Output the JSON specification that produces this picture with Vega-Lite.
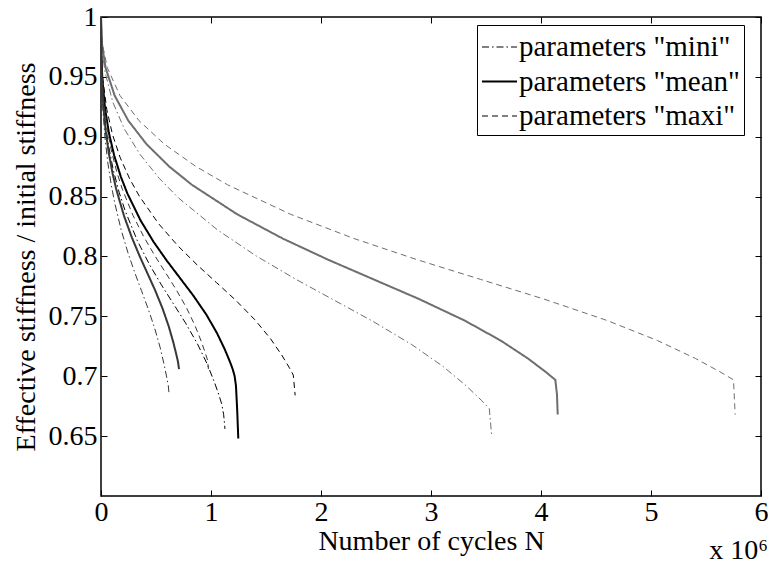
{
  "$schema": "https://vega.github.io/schema/vega-lite/v6.json",
  "width": 660,
  "height": 479,
  "autosize": {"type": "none"},
  "padding": {"left": 101, "top": 17, "right": 7, "bottom": 73},
  "background": "white",
  "title": {"text": "x 10⁶", "orient": "bottom", "anchor": "end", "font": "Liberation Serif", "fontSize": 28, "fontWeight": "normal", "color": "black", "offset": -18},
  "config": {
    "view": {"stroke": "black", "strokeWidth": 1.5},
    "axis": {"labelFont": "Liberation Serif", "labelFontSize": 28, "labelColor": "black", "titleFont": "Liberation Serif", "titleFontSize": 28, "titleFontWeight": "normal", "titleColor": "black", "grid": false, "domain": false, "tickColor": "black", "tickSize": -6, "tickWidth": 1},
    "legend": {"labelFont": "Liberation Serif", "labelFontSize": 29, "labelColor": "black", "labelLimit": 400, "symbolType": "stroke", "symbolSize": 1225, "symbolStrokeColor": "black", "strokeColor": "black", "fillColor": "white", "padding": 4, "rowPadding": 1, "labelOffset": 1, "cornerRadius": 0}
  },
  "data": {"values": [
    {"c":"R3","g":"R","p":"maxi","x":0,"y":1},
    {"c":"R3","g":"R","p":"maxi","x":0.0115,"y":0.9778},
    {"c":"R3","g":"R","p":"maxi","x":0.0575,"y":0.9577},
    {"c":"R3","g":"R","p":"maxi","x":0.1725,"y":0.9344},
    {"c":"R3","g":"R","p":"maxi","x":0.345,"y":0.9135},
    {"c":"R3","g":"R","p":"maxi","x":0.575,"y":0.8939},
    {"c":"R3","g":"R","p":"maxi","x":0.8625,"y":0.8752},
    {"c":"R3","g":"R","p":"maxi","x":1.15,"y":0.8599},
    {"c":"R3","g":"R","p":"maxi","x":1.725,"y":0.8352},
    {"c":"R3","g":"R","p":"maxi","x":2.3,"y":0.815},
    {"c":"R3","g":"R","p":"maxi","x":2.875,"y":0.7973},
    {"c":"R3","g":"R","p":"maxi","x":3.45,"y":0.7809},
    {"c":"R3","g":"R","p":"maxi","x":4.025,"y":0.7645},
    {"c":"R3","g":"R","p":"maxi","x":4.6,"y":0.7466},
    {"c":"R3","g":"R","p":"maxi","x":5.06,"y":0.7298},
    {"c":"R3","g":"R","p":"maxi","x":5.405,"y":0.7148},
    {"c":"R3","g":"R","p":"maxi","x":5.635,"y":0.7033},
    {"c":"R3","g":"R","p":"maxi","x":5.75,"y":0.697},
    {"c":"R3","g":"R","p":"maxi","x":5.765,"y":0.668},
    {"c":"R2","g":"R","p":"mean","x":0,"y":1},
    {"c":"R2","g":"R","p":"mean","x":0.0083,"y":0.9778},
    {"c":"R2","g":"R","p":"mean","x":0.0413,"y":0.9577},
    {"c":"R2","g":"R","p":"mean","x":0.1239,"y":0.9344},
    {"c":"R2","g":"R","p":"mean","x":0.2478,"y":0.9135},
    {"c":"R2","g":"R","p":"mean","x":0.413,"y":0.8939},
    {"c":"R2","g":"R","p":"mean","x":0.6195,"y":0.8752},
    {"c":"R2","g":"R","p":"mean","x":0.826,"y":0.8599},
    {"c":"R2","g":"R","p":"mean","x":1.239,"y":0.8352},
    {"c":"R2","g":"R","p":"mean","x":1.652,"y":0.815},
    {"c":"R2","g":"R","p":"mean","x":2.065,"y":0.7973},
    {"c":"R2","g":"R","p":"mean","x":2.478,"y":0.7809},
    {"c":"R2","g":"R","p":"mean","x":2.891,"y":0.7645},
    {"c":"R2","g":"R","p":"mean","x":3.304,"y":0.7466},
    {"c":"R2","g":"R","p":"mean","x":3.634,"y":0.7298},
    {"c":"R2","g":"R","p":"mean","x":3.882,"y":0.7148},
    {"c":"R2","g":"R","p":"mean","x":4.047,"y":0.7033},
    {"c":"R2","g":"R","p":"mean","x":4.13,"y":0.697},
    {"c":"R2","g":"R","p":"mean","x":4.145,"y":0.685},
    {"c":"R2","g":"R","p":"mean","x":4.152,"y":0.668},
    {"c":"R1","g":"R","p":"mini","x":0,"y":1},
    {"c":"R1","g":"R","p":"mini","x":0.0071,"y":0.976},
    {"c":"R1","g":"R","p":"mini","x":0.0353,"y":0.9544},
    {"c":"R1","g":"R","p":"mini","x":0.1059,"y":0.9292},
    {"c":"R1","g":"R","p":"mini","x":0.2118,"y":0.9066},
    {"c":"R1","g":"R","p":"mini","x":0.353,"y":0.8855},
    {"c":"R1","g":"R","p":"mini","x":0.5295,"y":0.8653},
    {"c":"R1","g":"R","p":"mini","x":0.706,"y":0.8488},
    {"c":"R1","g":"R","p":"mini","x":1.059,"y":0.8222},
    {"c":"R1","g":"R","p":"mini","x":1.412,"y":0.8004},
    {"c":"R1","g":"R","p":"mini","x":1.765,"y":0.7813},
    {"c":"R1","g":"R","p":"mini","x":2.118,"y":0.7636},
    {"c":"R1","g":"R","p":"mini","x":2.471,"y":0.7459},
    {"c":"R1","g":"R","p":"mini","x":2.824,"y":0.7265},
    {"c":"R1","g":"R","p":"mini","x":3.106,"y":0.7084},
    {"c":"R1","g":"R","p":"mini","x":3.318,"y":0.6922},
    {"c":"R1","g":"R","p":"mini","x":3.459,"y":0.6798},
    {"c":"R1","g":"R","p":"mini","x":3.53,"y":0.673},
    {"c":"R1","g":"R","p":"mini","x":3.552,"y":0.65},
    {"c":"M3","g":"M","p":"maxi","x":0,"y":1},
    {"c":"M3","g":"M","p":"maxi","x":0.0035,"y":0.9701},
    {"c":"M3","g":"M","p":"maxi","x":0.0175,"y":0.9475},
    {"c":"M3","g":"M","p":"maxi","x":0.0524,"y":0.9229},
    {"c":"M3","g":"M","p":"maxi","x":0.1049,"y":0.9017},
    {"c":"M3","g":"M","p":"maxi","x":0.1748,"y":0.8825},
    {"c":"M3","g":"M","p":"maxi","x":0.2622,"y":0.8646},
    {"c":"M3","g":"M","p":"maxi","x":0.3496,"y":0.8502},
    {"c":"M3","g":"M","p":"maxi","x":0.5244,"y":0.8273},
    {"c":"M3","g":"M","p":"maxi","x":0.6992,"y":0.8089},
    {"c":"M3","g":"M","p":"maxi","x":0.874,"y":0.793},
    {"c":"M3","g":"M","p":"maxi","x":1.0488,"y":0.7783},
    {"c":"M3","g":"M","p":"maxi","x":1.2236,"y":0.7636},
    {"c":"M3","g":"M","p":"maxi","x":1.3984,"y":0.7472},
    {"c":"M3","g":"M","p":"maxi","x":1.5382,"y":0.7317},
    {"c":"M3","g":"M","p":"maxi","x":1.6431,"y":0.7177},
    {"c":"M3","g":"M","p":"maxi","x":1.713,"y":0.707},
    {"c":"M3","g":"M","p":"maxi","x":1.748,"y":0.701},
    {"c":"M3","g":"M","p":"maxi","x":1.765,"y":0.684},
    {"c":"M2","g":"M","p":"mean","x":0,"y":1},
    {"c":"M2","g":"M","p":"mean","x":0.0024,"y":0.9706},
    {"c":"M2","g":"M","p":"mean","x":0.012,"y":0.9484},
    {"c":"M2","g":"M","p":"mean","x":0.0359,"y":0.9242},
    {"c":"M2","g":"M","p":"mean","x":0.0718,"y":0.9033},
    {"c":"M2","g":"M","p":"mean","x":0.1197,"y":0.8844},
    {"c":"M2","g":"M","p":"mean","x":0.1796,"y":0.8668},
    {"c":"M2","g":"M","p":"mean","x":0.2394,"y":0.8527},
    {"c":"M2","g":"M","p":"mean","x":0.3591,"y":0.8302},
    {"c":"M2","g":"M","p":"mean","x":0.4788,"y":0.8121},
    {"c":"M2","g":"M","p":"mean","x":0.5985,"y":0.7965},
    {"c":"M2","g":"M","p":"mean","x":0.7182,"y":0.782},
    {"c":"M2","g":"M","p":"mean","x":0.8379,"y":0.7675},
    {"c":"M2","g":"M","p":"mean","x":0.9576,"y":0.7515},
    {"c":"M2","g":"M","p":"mean","x":1.0534,"y":0.7362},
    {"c":"M2","g":"M","p":"mean","x":1.1252,"y":0.7225},
    {"c":"M2","g":"M","p":"mean","x":1.1731,"y":0.7119},
    {"c":"M2","g":"M","p":"mean","x":1.197,"y":0.706},
    {"c":"M2","g":"M","p":"mean","x":1.215,"y":0.7},
    {"c":"M2","g":"M","p":"mean","x":1.227,"y":0.692},
    {"c":"M2","g":"M","p":"mean","x":1.238,"y":0.672},
    {"c":"M2","g":"M","p":"mean","x":1.248,"y":0.648},
    {"c":"M1","g":"M","p":"mini","x":0,"y":1},
    {"c":"M1","g":"M","p":"mini","x":0.0022,"y":0.9677},
    {"c":"M1","g":"M","p":"mini","x":0.011,"y":0.9433},
    {"c":"M1","g":"M","p":"mini","x":0.0329,"y":0.9167},
    {"c":"M1","g":"M","p":"mini","x":0.0658,"y":0.8938},
    {"c":"M1","g":"M","p":"mini","x":0.1097,"y":0.873},
    {"c":"M1","g":"M","p":"mini","x":0.1646,"y":0.8537},
    {"c":"M1","g":"M","p":"mini","x":0.2194,"y":0.8382},
    {"c":"M1","g":"M","p":"mini","x":0.3291,"y":0.8135},
    {"c":"M1","g":"M","p":"mini","x":0.4388,"y":0.7936},
    {"c":"M1","g":"M","p":"mini","x":0.5485,"y":0.7764},
    {"c":"M1","g":"M","p":"mini","x":0.6582,"y":0.7605},
    {"c":"M1","g":"M","p":"mini","x":0.7679,"y":0.7446},
    {"c":"M1","g":"M","p":"mini","x":0.8776,"y":0.7269},
    {"c":"M1","g":"M","p":"mini","x":0.9654,"y":0.7102},
    {"c":"M1","g":"M","p":"mini","x":1.0312,"y":0.6951},
    {"c":"M1","g":"M","p":"mini","x":1.0751,"y":0.6834},
    {"c":"M1","g":"M","p":"mini","x":1.097,"y":0.677},
    {"c":"M1","g":"M","p":"mini","x":1.115,"y":0.668},
    {"c":"M1","g":"M","p":"mini","x":1.127,"y":0.656},
    {"c":"L3","g":"L","p":"maxi","x":0,"y":1},
    {"c":"L3","g":"L","p":"maxi","x":0.0019,"y":0.9713},
    {"c":"L3","g":"L","p":"maxi","x":0.0097,"y":0.9496},
    {"c":"L3","g":"L","p":"maxi","x":0.0291,"y":0.926},
    {"c":"L3","g":"L","p":"maxi","x":0.0582,"y":0.9056},
    {"c":"L3","g":"L","p":"maxi","x":0.097,"y":0.8872},
    {"c":"L3","g":"L","p":"maxi","x":0.1455,"y":0.87},
    {"c":"L3","g":"L","p":"maxi","x":0.194,"y":0.8562},
    {"c":"L3","g":"L","p":"maxi","x":0.291,"y":0.8343},
    {"c":"L3","g":"L","p":"maxi","x":0.388,"y":0.8166},
    {"c":"L3","g":"L","p":"maxi","x":0.485,"y":0.8013},
    {"c":"L3","g":"L","p":"maxi","x":0.582,"y":0.7872},
    {"c":"L3","g":"L","p":"maxi","x":0.679,"y":0.773},
    {"c":"L3","g":"L","p":"maxi","x":0.776,"y":0.7574},
    {"c":"L3","g":"L","p":"maxi","x":0.8536,"y":0.7425},
    {"c":"L3","g":"L","p":"maxi","x":0.9118,"y":0.7291},
    {"c":"L3","g":"L","p":"maxi","x":0.9506,"y":0.7187},
    {"c":"L3","g":"L","p":"maxi","x":0.97,"y":0.713},
    {"c":"L3","g":"L","p":"maxi","x":0.976,"y":0.706},
    {"c":"L2","g":"L","p":"mean","x":0,"y":1},
    {"c":"L2","g":"L","p":"mean","x":0.0014,"y":0.9712},
    {"c":"L2","g":"L","p":"mean","x":0.007,"y":0.9494},
    {"c":"L2","g":"L","p":"mean","x":0.021,"y":0.9257},
    {"c":"L2","g":"L","p":"mean","x":0.042,"y":0.9053},
    {"c":"L2","g":"L","p":"mean","x":0.07,"y":0.8868},
    {"c":"L2","g":"L","p":"mean","x":0.105,"y":0.8695},
    {"c":"L2","g":"L","p":"mean","x":0.14,"y":0.8557},
    {"c":"L2","g":"L","p":"mean","x":0.21,"y":0.8337},
    {"c":"L2","g":"L","p":"mean","x":0.28,"y":0.816},
    {"c":"L2","g":"L","p":"mean","x":0.35,"y":0.8006},
    {"c":"L2","g":"L","p":"mean","x":0.42,"y":0.7864},
    {"c":"L2","g":"L","p":"mean","x":0.49,"y":0.7722},
    {"c":"L2","g":"L","p":"mean","x":0.56,"y":0.7565},
    {"c":"L2","g":"L","p":"mean","x":0.616,"y":0.7416},
    {"c":"L2","g":"L","p":"mean","x":0.658,"y":0.7281},
    {"c":"L2","g":"L","p":"mean","x":0.686,"y":0.7177},
    {"c":"L2","g":"L","p":"mean","x":0.7,"y":0.712},
    {"c":"L2","g":"L","p":"mean","x":0.709,"y":0.706},
    {"c":"L1","g":"L","p":"mini","x":0,"y":1},
    {"c":"L1","g":"L","p":"mini","x":0.0012,"y":0.9692},
    {"c":"L1","g":"L","p":"mini","x":0.0061,"y":0.9459},
    {"c":"L1","g":"L","p":"mini","x":0.0184,"y":0.9206},
    {"c":"L1","g":"L","p":"mini","x":0.0367,"y":0.8987},
    {"c":"L1","g":"L","p":"mini","x":0.0612,"y":0.8789},
    {"c":"L1","g":"L","p":"mini","x":0.0918,"y":0.8605},
    {"c":"L1","g":"L","p":"mini","x":0.1224,"y":0.8457},
    {"c":"L1","g":"L","p":"mini","x":0.1836,"y":0.8221},
    {"c":"L1","g":"L","p":"mini","x":0.2448,"y":0.8032},
    {"c":"L1","g":"L","p":"mini","x":0.306,"y":0.7868},
    {"c":"L1","g":"L","p":"mini","x":0.3672,"y":0.7716},
    {"c":"L1","g":"L","p":"mini","x":0.4284,"y":0.7564},
    {"c":"L1","g":"L","p":"mini","x":0.4896,"y":0.7396},
    {"c":"L1","g":"L","p":"mini","x":0.5386,"y":0.7237},
    {"c":"L1","g":"L","p":"mini","x":0.5753,"y":0.7092},
    {"c":"L1","g":"L","p":"mini","x":0.5998,"y":0.6981},
    {"c":"L1","g":"L","p":"mini","x":0.612,"y":0.692},
    {"c":"L1","g":"L","p":"mini","x":0.618,"y":0.686}
  ]},
  "layer": [
    {
      "mark": {"type": "line", "clip": true},
      "encoding": {
        "x": {"field": "x", "type": "quantitative", "scale": {"domain": [0, 6], "nice": false, "zero": false},
              "axis": {"orient": "bottom", "title": "Number of cycles N", "values": [0,1,2,3,4,5,6], "labelExpr": "'' + datum.value", "labelPadding": 8, "titlePadding": 1, "labelFlush": false, "labelOverlap": false}},
        "y": {"field": "y", "type": "quantitative", "scale": {"domain": [0.6, 1], "nice": false, "zero": false},
              "axis": {"orient": "left", "title": "Effective stiffness / initial stiffness", "values": [0.65,0.7,0.75,0.8,0.85,0.9,0.95,1], "labelExpr": "'' + datum.value", "labelPadding": 10, "titlePadding": 8, "labelFlush": false, "labelOverlap": false}},
        "detail": {"field": "c"},
        "color": {"field": "g", "type": "nominal", "scale": {"domain": ["L","M","R"], "range": ["#383838","#000000","#6e6e6e"]}, "legend": null},
        "strokeDash": {"field": "p", "type": "nominal", "scale": {"domain": ["mini","mean","maxi"], "range": [[7,3,1.5,3],[1,0],[6,4]]},
              "legend": {"title": null, "orient": "none", "legendX": 376, "legendY": 8, "labelExpr": "'parameters \"' + datum.label + '\"'"}},
        "strokeWidth": {"field": "p", "type": "nominal", "scale": {"type": "ordinal", "domain": ["mini","mean","maxi"], "range": [1, 2, 1]},
              "legend": {"title": null, "orient": "none", "legendX": 376, "legendY": 8, "labelExpr": "'parameters \"' + datum.label + '\"'"}}
      }
    },
    {
      "mark": {"type": "line", "opacity": 0},
      "encoding": {
        "x": {"field": "x", "type": "quantitative", "axis": {"orient": "top", "title": null, "labels": false, "values": [0,1,2,3,4,5,6]}},
        "y": {"field": "y", "type": "quantitative", "axis": {"orient": "right", "title": null, "labels": false, "values": [0.65,0.7,0.75,0.8,0.85,0.9,0.95,1]}},
        "detail": {"field": "c"}
      }
    }
  ],
  "resolve": {"axis": {"x": "independent", "y": "independent"}}
}
